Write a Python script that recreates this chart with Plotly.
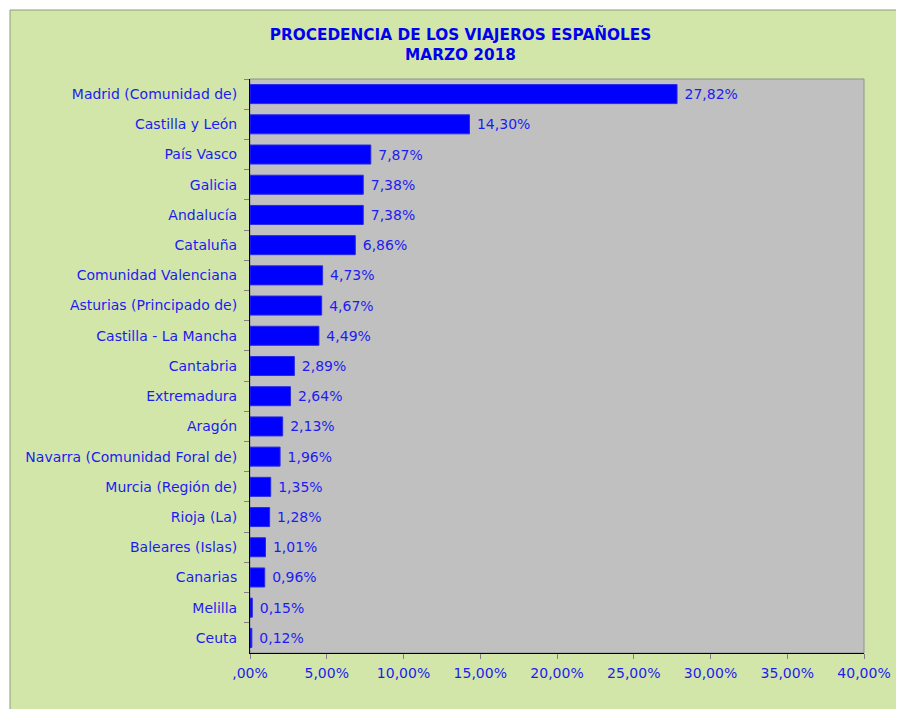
import plotly.graph_objects as go

categories = ["Madrid (Comunidad de)", "Castilla y León", "País Vasco", "Galicia", "Andalucía",
              "Cataluña", "Comunidad Valenciana", "Asturias (Principado de)", "Castilla - La Mancha",
              "Cantabria", "Extremadura", "Aragón", "Navarra (Comunidad Foral de)", "Murcia (Región de)",
              "Rioja (La)", "Baleares (Islas)", "Canarias", "Melilla", "Ceuta"]
values = [27.82, 14.30, 7.87, 7.38, 7.38, 6.86, 4.73, 4.67, 4.49, 2.89, 2.64, 2.13, 1.96,
          1.35, 1.28, 1.01, 0.96, 0.15, 0.12]
tick_vals = [0, 5, 10, 15, 20, 25, 30, 35, 40]
tick_text = [",00%", "5,00%", "10,00%", "15,00%", "20,00%", "25,00%", "30,00%", "35,00%", "40,00%"]
title_text = "<b>PROCEDENCIA DE LOS VIAJEROS ESPAÑOLES<br>MARZO 2018</b>"

BLUE_TXT = "#1c1cf0"
FONT = "DejaVu Sans"
FS = 14

labels = ["\u00a0" + f"{v:.2f}".replace(".", ",") + "%" for v in values]

fig = go.Figure(go.Bar(
    x=values, y=categories, orientation="h",
    marker=dict(color="#0000FF", line=dict(color="#2a2ae0", width=1)),
    text=labels, textposition="outside", cliponaxis=False,
    textfont=dict(color=BLUE_TXT, size=FS, family=FONT),
))

# page body has an 8px margin; size the figure to fit the 904x709 window exactly
OFF = 8
W, H = 904 - OFF, 709 - OFF
L, T = 250 - OFF, 79 - OFF
pw, ph = 614, 574
R = W - L - pw
B = H - T - ph
x0 = (10 - OFF - L) / pw
x1 = (903 - OFF - L) / pw
y1 = 1 + (T - (10 - OFF)) / ph

fig.update_layout(
    width=W, height=H,
    margin=dict(l=L, r=R, t=T, b=B),
    paper_bgcolor="#D2E6AA",
    plot_bgcolor="rgba(0,0,0,0)",
    showlegend=False,
    bargap=0.37,
    font=dict(family=FONT, color=BLUE_TXT, size=FS),
    title=dict(text=title_text, x=(460.5 - OFF) / W, xanchor="center", y=1 - 32 / H, yanchor="middle",
               font=dict(family=FONT, size=15.3, color="#0000EE")),
    shapes=[
        dict(type="rect", xref="paper", yref="paper", x0=-2, x1=x0, y0=-2, y1=3,
             fillcolor="white", line=dict(width=0), layer="below"),
        dict(type="rect", xref="paper", yref="paper", x0=x1, x1=3, y0=-2, y1=3,
             fillcolor="white", line=dict(width=0), layer="below"),
        dict(type="rect", xref="paper", yref="paper", x0=-2, x1=3, y0=y1, y1=3,
             fillcolor="white", line=dict(width=0), layer="below"),
        dict(type="line", xref="paper", yref="paper", x0=x0, x1=x1, y0=y1, y1=y1,
             line=dict(color="#8c9c78", width=1), layer="below"),
        dict(type="line", xref="paper", yref="paper", x0=x0, x1=x0, y0=-2, y1=y1,
             line=dict(color="#8c9c78", width=1), layer="below"),
        dict(type="line", xref="paper", yref="paper", x0=x1, x1=x1, y0=-2, y1=y1,
             line=dict(color="#8c9c78", width=1), layer="below"),
        dict(type="rect", xref="paper", yref="paper", x0=0, x1=1, y0=0, y1=1,
             fillcolor="#C0C0C0", line=dict(color="#909090", width=1), layer="below"),
    ],
)
fig.update_xaxes(
    range=[0, 40], tickvals=tick_vals, ticktext=tick_text,
    showgrid=False, zeroline=False,
    showline=True, linecolor="black", linewidth=1,
    ticks="outside", ticklen=5, tickcolor="#808080",
    ticklabelstandoff=2,
    tickfont=dict(color=BLUE_TXT, size=FS, family=FONT),
)
fig.update_yaxes(
    autorange="reversed", showgrid=False, zeroline=False,
    showline=True, linecolor="black", linewidth=1,
    ticks="outside", ticklen=5, tickcolor="#808080", tickson="boundaries",
    ticklabelstandoff=9,
    tickfont=dict(color=BLUE_TXT, size=FS, family=FONT),
)

fig.write_html("out.html")
